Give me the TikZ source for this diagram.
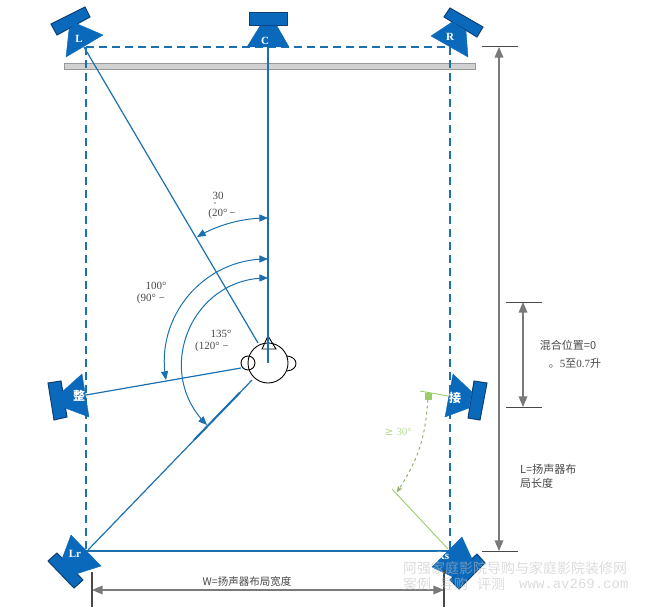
\documentclass[tikz,border=0pt]{standalone}
\usepackage{fontspec}
\setmainfont{Liberation Serif}
\newfontfamily\cjk{Noto Sans CJK SC}
\newfontfamily\symb{DejaVu Sans}
\newfontfamily\wmono{Liberation Mono}
\usepackage{xcolor}
\usetikzlibrary{arrows,positioning}
\definecolor{spkblue}{HTML}{0B69BC}
\definecolor{spkdark}{HTML}{0C3F73}
\definecolor{linblue}{HTML}{1B70B0}
\definecolor{dimgrey}{HTML}{7A7A7A}
\definecolor{txtgrey}{HTML}{484848}
\definecolor{grn}{HTML}{9CCB6A}
\tikzset{
    %Define standard arrow tip
    >=stealth',
    %Define style for speakers
    spkcone/.style={fill=spkblue, draw=spkblue, line width=0.4pt},
    spkbox/.style={fill=spkblue, draw=spkdark, line width=1pt},
    spklabel/.style={text=white, inner sep=0pt, font=\fontsize{11}{11}\selectfont\bfseries},
    % Define line styles
    room/.style={draw=linblue, line width=1.2pt, dash pattern=on 8pt off 5pt},
    ray/.style={draw=linblue, line width=1.2pt},
    sweep/.style={<->, >=triangle 45, draw=linblue, line width=1pt},
    dimline/.style={draw=dimgrey, line width=1.5pt},
    dimtip/.style={<->, >=triangle 45},
    tick/.style={draw=txtgrey, line width=1pt},
    % Define style for texts
    lab/.style={text=txtgrey, inner sep=0pt, align=left, font=\fontsize{11}{13}\selectfont},
    mark30/.style={draw=grn, line width=0.9pt},
    wmark/.style={text=black!25, opacity=0.55, inner sep=0pt, font=\fontsize{14}{14}\selectfont\cjk}
}
\begin{document}
\begin{tikzpicture}[x=1pt, y=-1pt]
 \useasboundingbox (0,0) rectangle (650,615);
 % wall
 \draw[fill=black!18, draw=black!40, line width=0.8pt] (64,63) rectangle (475,69);
 %free ends
 \coordinate (roomNW) at (86,47);
 \coordinate (roomNE) at (450,47);
 \coordinate (roomSW) at (86,551);
 \coordinate (roomSE) at (450,551);
 \coordinate (rayL) at (84,47);
 \coordinate (rayC) at (268,47);
 \coordinate (raySL) at (86,395);
 \coordinate (rayLr) at (88,550);
 \coordinate (thickA) at (194,440);
 \coordinate (thickB) at (240,392.5);
 % room outline
 \draw[room] (roomNW) -- (roomNE);
 \draw[room] (roomNW) -- (roomSW);
 \draw[room] (roomNE) -- (roomSE);
 \draw[ray, line width=1.8pt] (roomSW) -- (roomSE);
 %listener
 \node[circle, draw=black, line width=0.9pt, minimum size=40pt, inner sep=0pt] (head) at (268,363) {};
 \node[circle, draw=black, line width=0.9pt, minimum size=14pt, inner sep=0pt] (earL) at (248,363) {};
 \coordinate (earRa) at (287,356);
 \coordinate (earRb) at (287,371);
 \draw[black, line width=0.9pt] (earRa) .. controls (299,357) and (299,370) .. (earRb);
 \coordinate (noseA) at (268,336);
 \coordinate (noseB) at (262,349);
 \coordinate (noseC) at (276,349);
 \draw[black, line width=0.9pt] (noseA) -- (noseB) -- (noseC) -- cycle;
 \coordinate (rayLend) at (258,343);
 \coordinate (raySLend) at (241,368);
 \coordinate (rayLrEnd) at (252,380);
 % rays
 \draw[ray] (rayC) -- (head.center);
 \draw[ray] (rayL) -- (rayLend);
 \draw[ray] (raySL) -- (raySLend);
 \draw[ray] (rayLr) -- (rayLrEnd);
 \draw[ray, line width=2pt] (thickA) -- (thickB);
 % angle sweeps
 \coordinate (a30a) at (268,218);
 \coordinate (a30b) at (197,237);
 \coordinate (a100a) at (268,259);
 \coordinate (a100b) at (166,380);
 \coordinate (a135a) at (268,278);
 \coordinate (a135b) at (207,425);
 \draw[sweep] (a30a) to[bend right=15, looseness=0.87] (a30b);
 \draw[sweep] (a100a) to[bend right=50, looseness=1.04] (a100b);
 \draw[sweep] (a135a) to[bend right=67.5, looseness=1.23] (a135b);
 %speakers
 \draw[spkbox] (51,24) -- (85,7) -- (90,17) -- (57,35) -- cycle;
 \draw[spkcone] (75,23) -- (103,35) -- (66,57) -- (69,30) -- cycle;
 \draw[spkbox] (249,13) rectangle (287,26);
 \draw[spkcone] (260,26) -- (277,26) -- (289,47) -- (247,47) -- cycle;
 \draw[spkbox] (450,8) -- (483,27) -- (477,37) -- (444,17) -- cycle;
 \draw[spkcone] (452,22) -- (431,36) -- (468,57) -- (466,31) -- cycle;
 \draw[spkbox] (48,383) -- (61,381) -- (67,417) -- (54,420) -- cycle;
 \draw[spkcone] (62,392) -- (82,374) -- (89,417) -- (65,408) -- cycle;
 \draw[spkbox] (474,381) -- (487,383) -- (480,420) -- (468,418) -- cycle;
 \draw[spkcone] (453,374) -- (472,392) -- (469,408) -- (445,417) -- cycle;
 \draw[spkbox] (57,553) -- (83,580) -- (74,588) -- (48,561) -- cycle;
 \draw[spkcone] (71,535) -- (101,566) -- (76,574) -- (62,559) -- cycle;
 \draw[spkbox] (477,554) -- (485,563) -- (459,589) -- (450,580) -- cycle;
 \draw[spkcone] (462,537) -- (432,567) -- (453,577) -- (472,559) -- cycle;
 \node[spklabel] (L) at (79,39) {L};
 \node[spklabel] (C) at (265,41) {C};
 \node[spklabel] (R) at (450,37) {R};
 \node[spklabel, font=\fontsize{12}{12}\selectfont\bfseries] (SL) at (79,396) {\cjk 整};
 \node[spklabel, font=\fontsize{12}{12}\selectfont\bfseries] (SR) at (455,398) {\cjk 接};
 \node[spklabel] (Lr) at (75,554) {Lr};
 \node[spklabel] (Rs) at (443,556) {Rs};
 % green mark
 \coordinate (gA) at (420,391);
 \coordinate (gB) at (448,396);
 \coordinate (gC) at (392,489);
 \coordinate (gD) at (448,549);
 \draw[mark30] (gA) -- (gB);
 \draw[mark30] (gC) -- (gD);
 \node[fill=grn, minimum size=7pt, inner sep=0pt] (gsq) at (428,396) {};
 \coordinate (gEnd) at (397,492);
 \draw[->, draw=grn!70!gray, line width=1pt, dashed] (gsq) to[bend left=15] (gEnd);
 \node[text=grn!70, inner sep=0pt, font=\fontsize{11}{13}\selectfont] (a30) at (398,432) {{\symb ≥} 30°};
 % dimensions
 \coordinate (dLt) at (499,47);
 \coordinate (dLb) at (499,551);
 \coordinate (dMt) at (523,302);
 \coordinate (dMb) at (523,407);
 \coordinate (dWl) at (92,590);
 \coordinate (dWr) at (444,590);
 \draw[dimline, dimtip] (dLt) -- (dLb);
 \draw[dimline, dimtip] (dMt) -- (dMb);
 \draw[dimline, dimtip] (dWl) -- (dWr);
 \draw[tick] (482,47) -- (518,47);
 \draw[tick] (482,551) -- (518,551);
 \draw[tick] (506,302) -- (542,302);
 \draw[tick] (506,407) -- (542,407);
 \draw[tick, line width=1.3pt] (92,572) -- (92,607);
 \draw[tick, line width=1.3pt] (444,570) -- (444,607);
 %labels
 \node[lab] (l30) at (218,196) {30};
 \node[lab, font=\fontsize{6}{6}\selectfont] (l30b) at (215,204.5) {°};
 \node[lab] (l20) at (222,214) {(20°\kern2pt −};
 \node[lab] (l100) at (156,286) {100°};
 \node[lab] (l90) at (151,299) {(90°\kern3pt −};
 \node[lab] (l135) at (221,334) {135°};
 \node[lab] (l120) at (212,347) {(120°\kern3pt −};
 \node[lab] (mix) at (568,345) {\cjk 混合位置=0};
 \node[lab] (mixb) at (575,363) {{\cjk 。}5{\cjk 至}0.7{\cjk 升}};
 \node[lab, anchor=north west] (len) at (520,464) {{\cjk L=扬声器布}\\[1pt]{\cjk 局长度}};
 \node[lab, font=\fontsize{10.5}{13}\selectfont] (wid) at (247,582) {\cjk W=扬声器布局宽度};
 % watermark
 \node[wmark, anchor=west] (wm) at (403,568) {阿强家庭影院导购与家庭影院装修网};
 \node[wmark, anchor=west] (wmA) at (403,584) {案例};
 \node[wmark, anchor=west] (wmB) at (440,584) {导购};
 \node[wmark, anchor=west] (wmC) at (477,584) {评测};
 \node[wmark, anchor=west, font=\fontsize{14}{14}\selectfont\wmono] (wmD) at (519,584) {www.av269.com};
\end{tikzpicture}
\end{document}
